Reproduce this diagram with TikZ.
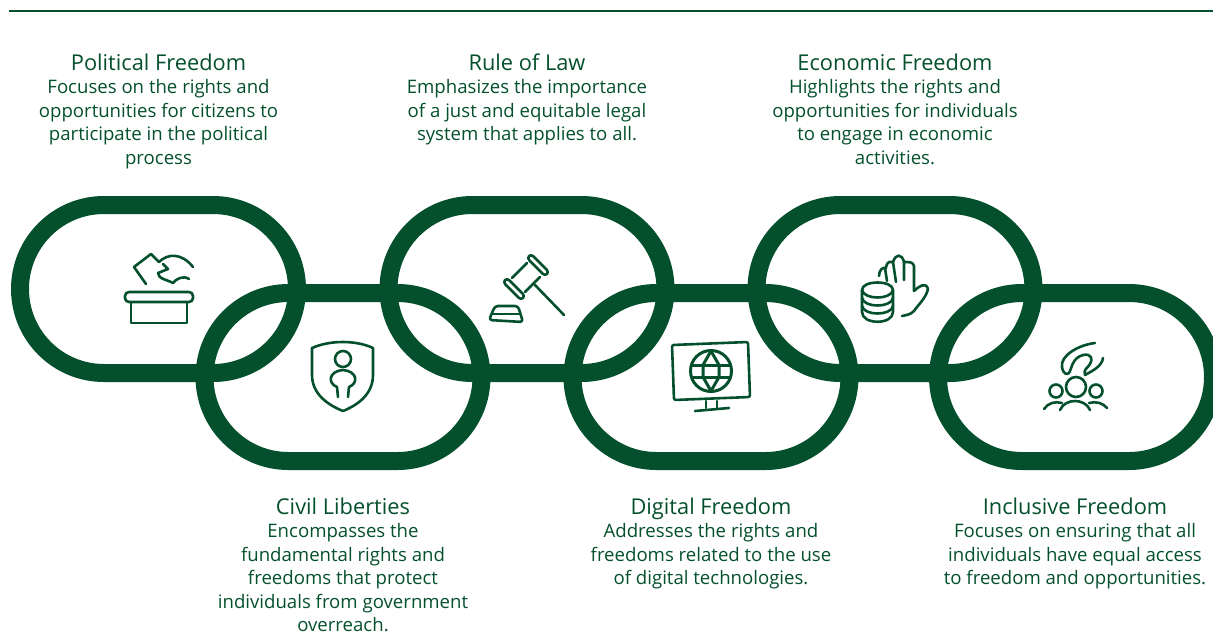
\documentclass[tikz,border=0pt]{standalone}
\usepackage{fontspec}
\setmainfont{Open Sans}
\usepackage{tikz}
\definecolor{chaingreen}{HTML}{04502C}
\newcommand{\headline}[1]{{\fontsize{21.8}{23.5}\selectfont #1}}

\begin{document}
\begin{tikzpicture}[x=1pt,y=-1pt,
	link/.style={draw=chaingreen,line width=18pt,rounded corners=84pt,minimum width=277pt,minimum height=168pt,inner sep=0pt},
	caption/.style={text=chaingreen,align=center,font=\fontsize{18.6}{23.5}\selectfont,anchor=north},
	glyph/.style={draw=chaingreen,line width=2.6pt,line cap=round,line join=round,fill=none}
	]
	\useasboundingbox (0,0) rectangle (1213,633);
	\clip (0,0) rectangle (1213,633);
	\coordinate (ruleleft) at (9,11);
	\coordinate (ruleright) at (1213,11);
	\draw[chaingreen,line width=2.6pt] (ruleleft) -- (ruleright);

	% chain
	\node[link] (political) at (158.5,289) {};
	\node[link] (civil) at (343,377) {};
	\node[link] (law) at (527,289) {};
	\node[link] (digital) at (711,377) {};
	\node[link] (economic) at (895,289) {};
	\node[link,minimum width=275pt] (inclusive) at (1075.5,377) {};

	% texts
	\node[caption] (politicaltext) at (158.5,50) {\headline{Political Freedom}\\Focuses on the rights and\\opportunities for citizens to\\participate in the political\\process};
	\node[caption] (lawtext) at (527,50) {\headline{Rule of Law}\\Emphasizes the importance\\of a just and equitable legal\\system that applies to all.};
	\node[caption] (economictext) at (895,50) {\headline{Economic Freedom}\\Highlights the rights and\\opportunities for individuals\\to engage in economic\\activities.};
	\node[caption] (civiltext) at (343,494) {\headline{Civil Liberties}\\Encompasses the\\fundamental rights and\\freedoms that protect\\individuals from government\\overreach.};
	\node[caption] (digitaltext) at (711,494) {\headline{Digital Freedom}\\Addresses the rights and\\freedoms related to the use\\of digital technologies.};
	\node[caption] (inclusivetext) at (1075,494) {\headline{Inclusive Freedom}\\Focuses on ensuring that all\\individuals have equal access\\to freedom and opportunities.};

	% ballot box
	\draw[glyph] (159,262) -- (151,254) -- (134,267) -- (146,284);
	\draw[glyph] (159,262) .. controls (168,253) and (182,253) .. (193,267);
	\draw[glyph] (163,264) -- (168,269) -- (158,273) .. controls (158,279) and (168,280) .. (173,283);
	\draw[glyph] (173,283) .. controls (176,279) and (183,275) .. (189,279);
	\draw[glyph,rounded corners=4pt] (125,292) rectangle (193,302);
	\draw[glyph] (131,302) -- (131,323) -- (187,323) -- (187,302);

	% shield with person
	\draw[glyph] (312,348) .. controls (330,340) and (356,340) .. (373,348) -- (373,375) .. controls (373,394) and (358,405) .. (343,411) .. controls (328,405) and (312,394) .. (312,375) -- cycle;
	\draw[glyph] (343,359) circle (8pt);
	\draw[glyph] (338,397) -- (337,387) .. controls (327,383) and (329,371) .. (343,370) .. controls (357,371) and (359,383) .. (349,387) -- (348,397);

	% gavel
	\draw[glyph] (527,263) -- (512,278);
	\draw[glyph] (540,277) -- (525,292);
	\draw[glyph,rounded corners=3pt] (527,258) -- (531,254) -- (549,272) -- (545,276) -- cycle;
	\draw[glyph,rounded corners=3pt] (503,282) -- (507,278) -- (525,296) -- (521,300) -- cycle;
	\draw[glyph] (535,285) -- (564,315);
	\draw[glyph,rounded corners=3pt] (495,306) -- (489,320) -- (523,322) -- (518,306) -- cycle;
	\draw[glyph] (492,314) -- (520,314);

	% monitor with globe
	\draw[glyph,rounded corners=2pt] (672,345) -- (748,342) -- (750,397) -- (674,400) -- cycle;
	\draw[glyph,line width=3pt] (711,371) circle (20.5pt);
	\draw[glyph,line width=3pt] (692,365) -- (730,365);
	\draw[glyph,line width=3pt] (692,377) -- (730,377);
	\draw[glyph,line width=3pt] (711,351) -- (703,365) -- (703,377) -- (711,391);
	\draw[glyph,line width=3pt] (711,351) -- (719,365) -- (719,377) -- (711,391);
	\draw[glyph] (706,401) -- (706,408);
	\draw[glyph] (717,401) -- (717,408);
	\draw[glyph] (695,411) -- (729,408);

	% hand with coins
	\draw[glyph] (862,290) .. controls (862,280) and (893,280) .. (893,290) -- (893,312) .. controls (893,325) and (862,325) .. (862,312) -- cycle;
	\draw[glyph] (862,290) .. controls (864,300) and (891,300) .. (893,290);
	\draw[glyph] (862,298) .. controls (864,308) and (891,308) .. (893,298);
	\draw[glyph] (862,306) .. controls (864,316) and (891,316) .. (893,306);
	\draw[glyph] (879,276) .. controls (879,270) and (883,267) .. (885,268) -- (887,281);
	\draw[glyph] (886,268) .. controls (887,260) and (891,262) .. (893,262) -- (896,282);
	\draw[glyph] (893,262) .. controls (896,253) and (902,254) .. (904,262) -- (904,280);
	\draw[glyph] (904,262) .. controls (910,262) and (913,262) .. (914,266) -- (914,291);
	\draw[glyph] (914,291) .. controls (918,287) and (926,281) .. (928,289) .. controls (926,298) and (918,305) .. (914,311) .. controls (910,315) and (906,315) .. (902,316);

	% people with question mark
	\draw[glyph] (1095,343) .. controls (1078,345) and (1060,356) .. (1062,367) .. controls (1063,374) and (1067,375) .. (1069,373) .. controls (1072,368) and (1072,358) .. (1083,355) .. controls (1092,353) and (1093,360) .. (1090,364) .. controls (1088,368) and (1083,369) .. (1085,375) .. controls (1090,372) and (1102,367) .. (1103,358);
	\draw[glyph] (1076,387) circle (10pt);
	\draw[glyph] (1056,391) circle (6.5pt);
	\draw[glyph] (1096,391) circle (6.5pt);
	\draw[glyph] (1060,410) .. controls (1065,398) and (1085,398) .. (1090,410);
	\draw[glyph] (1044,409) .. controls (1048,403) and (1055,401) .. (1062,403);
	\draw[glyph] (1107,408) .. controls (1103,403) and (1096,401) .. (1089,403);
\end{tikzpicture}
\end{document}
